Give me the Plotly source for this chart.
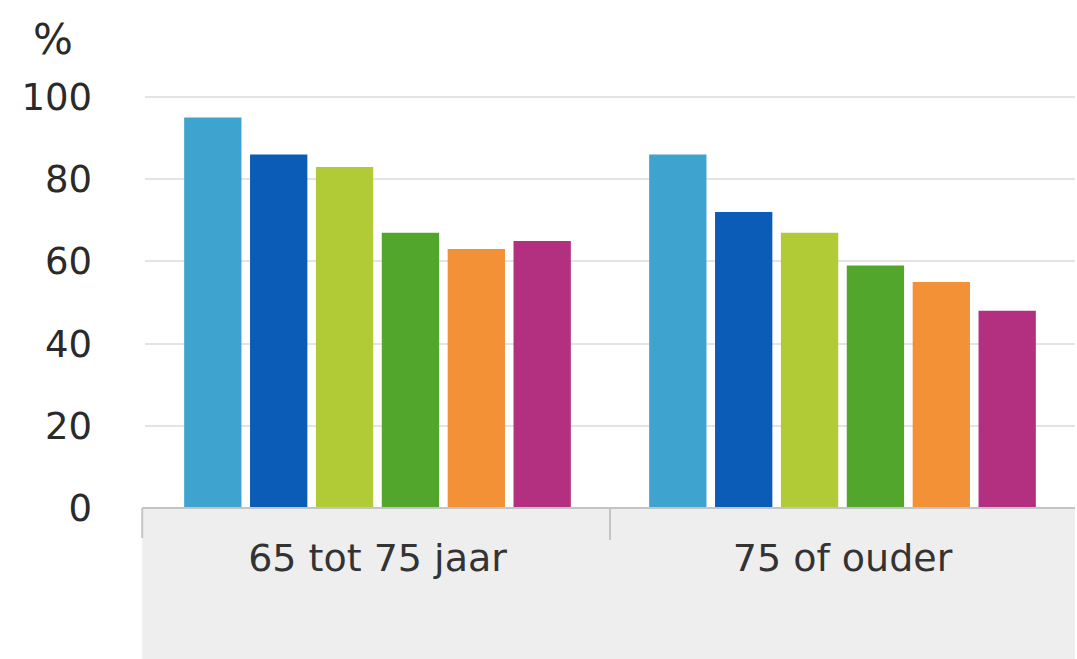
import plotly.graph_objects as go

categories = ["65 tot 75 jaar", "75 of ouder"]
series_names = ["Reeks 1", "Reeks 2", "Reeks 3", "Reeks 4", "Reeks 5", "Reeks 6"]
series_values = [
    [95, 86],
    [86, 72],
    [83, 67],
    [67, 59],
    [63, 55],
    [65, 48],
]
colors = ["#3fa3cf", "#0b5cb7", "#b1cb36", "#52a62c", "#f29136", "#b32f80"]
y_ticks = [0, 20, 40, 60, 80, 100]

W, H = 1077, 659
L, R, T, B = 145, 2, 95, 151
plot_h = H - T - B

fig = go.Figure()
for name, vals, col in zip(series_names, series_values, colors):
    fig.add_trace(go.Bar(x=categories, y=vals, name=name,
                         marker=dict(color=col, line=dict(width=0))))

fig.update_layout(
    width=W, height=H,
    margin=dict(l=L, r=R, t=T, b=B, autoexpand=False),
    plot_bgcolor="white", paper_bgcolor="white",
    barmode="group", bargap=0.15, bargroupgap=0.13,
    showlegend=False,
    font=dict(family="DejaVu Sans", color="#2a2a2a"),
    xaxis=dict(showgrid=False, showline=False, ticks="", zeroline=False,
               automargin=False,
               tickfont=dict(size=38, color="#333333"), ticklabelstandoff=24,
               fixedrange=True),
    yaxis=dict(range=[0, 100.5], tickvals=y_ticks, showgrid=True,
               automargin=False,
               gridcolor="#e4e4e4", gridwidth=2, zeroline=False, showline=False,
               tickfont=dict(size=37, color="#2a2a2a"), ticklabelstandoff=52),
    shapes=[
        dict(type="rect", xref="paper", yref="paper", x0=-0.003, x1=1.0,
             y0=-(B / plot_h), y1=0, fillcolor="#eeeeee", line=dict(width=0),
             layer="below"),
        dict(type="line", xref="paper", yref="paper", x0=-0.003, x1=1.0,
             y0=0, y1=0, line=dict(color="#c4c4c4", width=2)),
        dict(type="line", xref="paper", yref="paper", x0=-0.003, x1=-0.003,
             y0=0, y1=-(30 / plot_h), line=dict(color="#c4c4c4", width=2)),
        dict(type="line", xref="paper", yref="paper", x0=0.5, x1=0.5,
             y0=0, y1=-(32 / plot_h), line=dict(color="#c4c4c4", width=2)),
    ],
    annotations=[
        dict(text="%", xref="paper", yref="paper", x=(53 - L) / (W - L - R),
             y=1 + ((T - 40) / plot_h), showarrow=False, xanchor="center",
             yanchor="middle", font=dict(size=42, color="#2a2a2a")),
    ],
)

fig.write_html("out.html", config={"displayModeBar": False},
               post_script="document.body.style.margin='0';document.body.style.overflow='hidden';")
